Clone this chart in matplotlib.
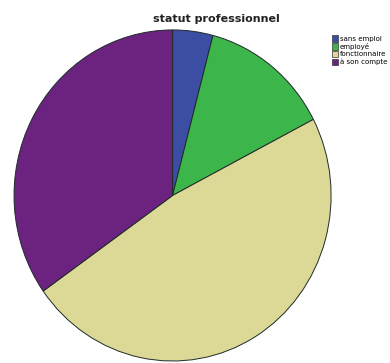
import matplotlib.pyplot as plt
from matplotlib.patches import Patch

labels = ["sans emploi", "employé", "fonctionnaire", "à son compte"]
shares = [4.1, 13.3, 47.8, 34.8]
colors = ["#3b4ea3", "#3cb54b", "#dcd996", "#6c2380"]


def main():
    fig = plt.figure(figsize=(3.9, 3.63), dpi=100)
    ax = fig.add_axes([0.036, 0.0055, 0.813, 0.912])
    ax.pie(
        shares,
        colors=colors,
        startangle=90,
        counterclock=False,
        radius=1,
        wedgeprops=dict(edgecolor="#1f2a2a", linewidth=0.7),
    )
    ax.set_aspect("auto")
    ax.set_xlim(-1, 1)
    ax.set_ylim(-1, 1)
    ax.axis("off")

    fig.text(0.555, 0.948, "statut professionnel", ha="center", va="center",
             fontsize=8, fontweight="bold", color="#222222")

    handles = [Patch(facecolor=c, edgecolor="#333333", linewidth=0.5) for c in colors]
    fig.legend(handles, labels, loc="upper left", bbox_to_anchor=(0.84, 0.915),
               frameon=False, fontsize=5, handlelength=0.9, handleheight=1.1,
               handletextpad=0.3, labelspacing=0.15, borderpad=0.1)

    fig.savefig("out.png", dpi=100)


if __name__ == "__main__":
    main()
